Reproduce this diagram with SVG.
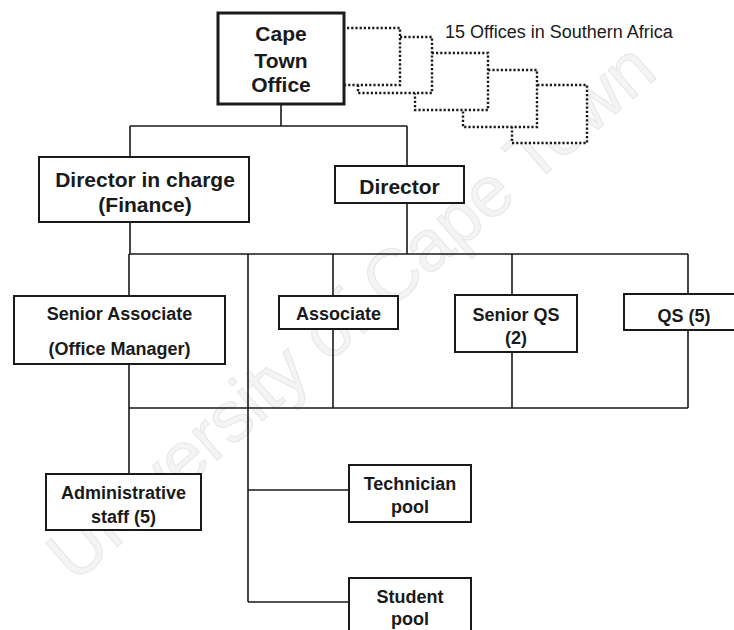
<svg xmlns="http://www.w3.org/2000/svg" width="734" height="630" viewBox="0 0 734 630">
  <style>
    .box { fill: #ffffff; stroke: #1a1a1a; stroke-width: 2; }
    .box-heavy { fill: #ffffff; stroke: #1a1a1a; stroke-width: 3; }
    .dotted { fill: #ffffff; stroke: #1a1a1a; stroke-width: 2.4; stroke-dasharray: 2.2 2; }
    .wire { fill: none; stroke: #1a1a1a; stroke-width: 1.6; }
    .lbl { font-family: "Liberation Sans", Arial, sans-serif; font-weight: bold; fill: #1a1a1a; text-anchor: middle; }
    .note { font-family: "Liberation Sans", Arial, sans-serif; fill: #1a1a1a; font-size: 18px; }
    .mark { font-family: "Liberation Sans", Arial, sans-serif; font-size: 72px; fill: #f4f4f4; stroke: #e6e6e6; stroke-width: 1; text-anchor: middle; }
  </style>

  <rect width="734" height="630" fill="#ffffff"/>

  <!-- faint background watermark -->
  <text class="mark" transform="translate(367 330) rotate(-41)">University of Cape Town</text>

  <!-- connectors -->
  <g id="connectors">
    <path class="wire" d="M281 104 V126 M130 126 H407 M130 126 V157 M407 126 V166"/>
    <path class="wire" d="M130 222 V254 M407 203 V254 M129 254 H688"/>
    <path class="wire" d="M129 254 V296 M333 254 V296 M512 254 V295 M688 254 V294"/>
    <path class="wire" d="M248 254 V602 M248 490 H349 M248 602 H349"/>
    <path class="wire" d="M129 364 V474 M129 408 H688 M333 329 V408 M512 352 V408 M688 330 V408"/>
  </g>

  <!-- stacked dotted offices behind the Cape Town office -->
  <g id="regional-offices">
    <rect class="dotted" x="512" y="85" width="75" height="58"/>
    <rect class="dotted" x="463" y="70" width="74" height="57"/>
    <rect class="dotted" x="415" y="53" width="73" height="57"/>
    <rect class="dotted" x="358" y="37" width="74" height="56"/>
    <rect class="dotted" x="326" y="28" width="74" height="57"/>
    <text class="note" x="445" y="37.5">15 Offices in Southern Africa</text>
  </g>

  <g id="cape-town-office">
    <rect class="box-heavy" x="218" y="13" width="126" height="91"/>
    <text class="lbl" x="281" y="41" font-size="21">Cape</text>
    <text class="lbl" x="281" y="67.5" font-size="21">Town</text>
    <text class="lbl" x="281" y="91.5" font-size="21">Office</text>
  </g>

  <g id="director-finance">
    <rect class="box" x="39" y="157" width="210" height="65" stroke-width="2.5"/>
    <text class="lbl" x="145" y="187" font-size="21">Director in charge</text>
    <text class="lbl" x="145" y="211.5" font-size="21">(Finance)</text>
  </g>

  <g id="director">
    <rect class="box" x="335" y="166" width="129" height="37" stroke-width="2.5"/>
    <text class="lbl" x="399.5" y="193.5" font-size="21">Director</text>
  </g>

  <g id="senior-associate">
    <rect class="box" x="14" y="296" width="211" height="68"/>
    <text class="lbl" x="119.5" y="319.5" font-size="18">Senior Associate</text>
    <text class="lbl" x="119.5" y="355" font-size="18">(Office Manager)</text>
  </g>

  <g id="associate">
    <rect class="box" x="279" y="296" width="119" height="33"/>
    <text class="lbl" x="338.5" y="319.5" font-size="18">Associate</text>
  </g>

  <g id="senior-qs">
    <rect class="box" x="455" y="295" width="122" height="57"/>
    <text class="lbl" x="516" y="321" font-size="18">Senior QS</text>
    <text class="lbl" x="516" y="344" font-size="18">(2)</text>
  </g>

  <g id="qs">
    <rect class="box" x="624" y="294" width="122" height="36"/>
    <text class="lbl" x="684" y="321.5" font-size="18">QS (5)</text>
  </g>

  <g id="administrative-staff">
    <rect class="box" x="46" y="474" width="155" height="56"/>
    <text class="lbl" x="123.5" y="498.5" font-size="18">Administrative</text>
    <text class="lbl" x="123.5" y="523" font-size="18">staff (5)</text>
  </g>

  <g id="technician-pool">
    <rect class="box" x="349" y="465" width="122" height="57"/>
    <text class="lbl" x="410" y="490" font-size="18">Technician</text>
    <text class="lbl" x="410" y="513" font-size="18">pool</text>
  </g>

  <g id="student-pool">
    <rect class="box" x="349" y="578" width="122" height="60"/>
    <text class="lbl" x="410" y="602.5" font-size="18">Student</text>
    <text class="lbl" x="410" y="625" font-size="18">pool</text>
  </g>
</svg>
